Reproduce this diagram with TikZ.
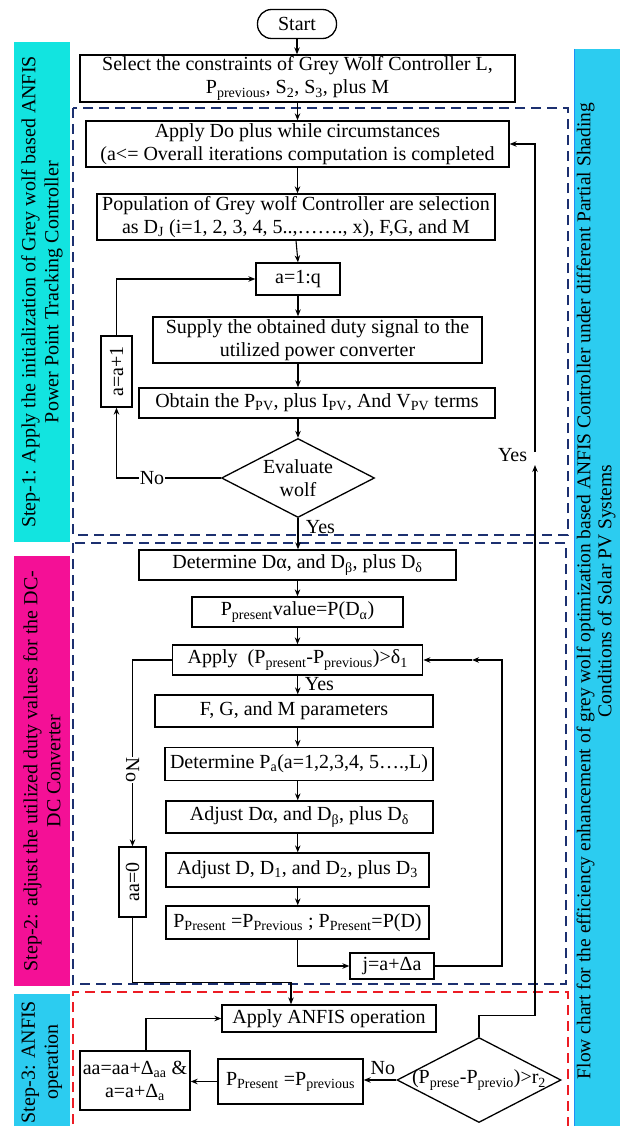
\documentclass[tikz,border=0pt]{standalone}
\usepackage{fontspec}
\setmainfont{Liberation Serif}
\usepackage{xcolor}
\usetikzlibrary{arrows.meta,shapes.geometric}
\definecolor{stepone}{RGB}{18,228,224}
\definecolor{steptwo}{RGB}{244,16,150}
\definecolor{stepthree}{RGB}{44,204,240}
\definecolor{navydash}{RGB}{28,48,112}
\definecolor{reddash}{RGB}{236,28,36}

\begin{document}
\begin{tikzpicture}[x=1pt,y=-1pt,>={Stealth[length=7pt,width=5.5pt]},line width=1.1pt,
  every node/.style={font=\fontsize{20}{23}\selectfont},
  blk/.style={draw,line width=1.3pt,inner sep=0pt,align=center},
  dia/.style={draw,line width=1.3pt,diamond,inner sep=0pt,align=center,shape aspect=2},
  bar/.style={inner sep=0pt,rotate=90,align=center},
  stepframe/.style={dash pattern=on 10pt off 6pt,line width=1.2pt}]
\useasboundingbox (0,0) rectangle (619,1126);
\fill[white] (0,0) rectangle (619,1126);

\node[bar,fill=stepone,minimum width=500,minimum height=56](s1) at (42,292)
  {Step-1: Apply the initialization of Grey wolf based ANFIS\\Power Point Tracking Controller};
\node[bar,fill=steptwo,minimum width=430,minimum height=56](s2) at (42,771)
  {Step-2: adjust the utilized duty values for the DC-\\DC Converter};
\node[bar,fill=stepthree,minimum width=136,minimum height=56](s3) at (42,1062)
  {Step-3: ANFIS\\operation};
\fill[stepthree] (574,49) rectangle (625,1130);
\draw[stepthree!70!blue,line width=0.8pt] (574,49) -- (574,1130);
\node[bar,font=\fontsize{19.5}{21}\selectfont](s0) at (596,591)
  {Flow chart for the efficiency enhancement of grey wolf optimization based ANFIS Controller under different Partial Shading\\Conditions of Solar PV Systems};

\draw[stepframe,navydash] (73,108) rectangle (568,535);
\draw[stepframe,navydash] (73,543) rectangle (566,984);
\draw[stepframe,reddash] (73,1140) -- (73,992) -- (568,992) -- (568,1140);

\node[blk,rounded corners=14pt,minimum width=79,minimum height=29](start) at (297,24) {Start};
\node[blk,minimum width=435,minimum height=47](sel) at (297.5,78.5)
  {Select the constraints of Grey Wolf Controller L,\\P\textsubscript{previous}, S\textsubscript{2}, S\textsubscript{3}, plus M};
\node[blk,minimum width=423,minimum height=46](apply) at (297.5,144)
  {Apply Do plus while circumstances\\(a<= Overall iterations computation is completed};
\node[blk,minimum width=398,minimum height=46](pop) at (296,217)
  {Population of Grey wolf Controller are selection\\as D\textsubscript{J} (i=1, 2, 3, 4, 5..,……., x), F,G, and M};
\node[blk,minimum width=84,minimum height=32](aq) at (298,279) {a=1:q};
\node[blk,minimum width=329,minimum height=46](supply) at (317.5,340)
  {Supply the obtained duty signal to the\\utilized power converter};
\node[blk,minimum width=356,minimum height=30](obtain) at (317,403)
  {Obtain the P\textsubscript{PV}, plus I\textsubscript{PV}, And V\textsubscript{PV} terms};
\node[dia,minimum width=153,minimum height=79](eval) at (298,478) {Evaluate\\wolf};
\node[blk,rotate=90,minimum width=71,minimum height=31](ainc) at (116.5,371.5) {a=a+1};

\node[blk,minimum width=317,minimum height=30](det) at (297.5,565)
  {Determine Dα, and D\textsubscript{β}, plus D\textsubscript{δ}};
\node[blk,minimum width=211,minimum height=30](ppres) at (297.5,612)
  {P\textsubscript{present}value=P(D\textsubscript{α})};
\node[blk,minimum width=250,minimum height=30](appd) at (297.75,660)
  {Apply~~(P\textsubscript{present}-P\textsubscript{previous})>δ\textsubscript{1}};
\node[blk,minimum width=278,minimum height=32](fgm) at (294,711) {F, G, and M parameters};
\node[blk,minimum width=268,minimum height=33](detpa) at (299,764)
  {Determine P\textsubscript{a}(a=1,2,3,4, 5….,L)};
\node[blk,minimum width=267,minimum height=32](adj1) at (299.5,817)
  {Adjust Dα, and D\textsubscript{β}, plus D\textsubscript{δ}};
\node[blk,minimum width=263,minimum height=34](adj2) at (297.5,870)
  {Adjust D, D\textsubscript{1}, and D\textsubscript{2}, plus D\textsubscript{3}};
\node[blk,minimum width=263,minimum height=33](pp) at (297.5,922.5)
  {P\textsubscript{Present} =P\textsubscript{Previous} ; P\textsubscript{Present}=P(D)};
\node[blk,minimum width=84,minimum height=26](jbox) at (392,966) {j=a+Δa};
\node[blk,rotate=90,minimum width=70,minimum height=27](aa0) at (132.5,882) {aa=0};

\node[blk,minimum width=214,minimum height=27](anfis) at (329,1018.5) {Apply ANFIS operation};
\node[blk,minimum width=110,minimum height=59](upd) at (135,1080.5)
  {aa=aa+Δ\textsubscript{aa} \&\\a=a+Δ\textsubscript{a}};
\node[blk,minimum width=145,minimum height=45](pp2) at (290.5,1081.5)
  {P\textsubscript{Present} =P\textsubscript{previous}};
\node[dia,minimum width=164,minimum height=85,
  label={center:(P\textsubscript{prese}-P\textsubscript{previo})>r\textsubscript{2}}](dia2) at (479,1080) {};

\coordinate (gapb) at (535,465);
\coordinate (gapt) at (535,452);
\coordinate (rj) at (502,966);
\coordinate (midtip) at (472,660);

\draw[->](start)--(start|-sel.north);
\draw[->](sel.south)--(sel.south|-apply.north);
\draw[->](apply.south)--(apply.south|-pop.north);
\draw[->](pop.south)--(aq.north);
\draw[->](aq.south)--(aq.south|-supply.north);
\draw[->](aq.south|-supply.south)--(aq.south|-obtain.north);
\draw[->](aq.south|-obtain.south)--(eval.north);
\draw[->](eval.west)--node[fill=white,inner sep=1pt,pos=0.66](no1){No}(ainc.west|-eval.west)--(ainc.west);
\draw[->](ainc.east)|-(aq.west);
\draw[->](eval.south)--(eval.south|-det.north);
\node[anchor=west](yes1) at (302,527) {Yes};

\draw[->](det.south)--(det.south|-ppres.north);
\draw[->](ppres.south)--(ppres.south|-appd.north);
\draw[->](appd.south)--(appd.south|-fgm.north);
\node[anchor=west](yes2) at (301,684) {Yes};
\draw[->](appd.south|-fgm.south)--(appd.south|-detpa.north);
\draw[->](appd.south|-detpa.south)--(appd.south|-adj1.north);
\draw[->](appd.south|-adj1.south)--(appd.south|-adj2.north);
\draw[->](appd.south|-adj2.south)--(appd.south|-pp.north);
\draw[->](pp.south)|-(jbox.west);
\draw[->](jbox.east)--(rj)|-(midtip);
\draw[->](midtip)--(appd.east);
\draw[->](appd.west)--(aa0.east|-appd.west)--node[fill=white,inner sep=1pt,rotate=-90,pos=0.59](no2){No}(aa0.east);
\draw[->](aa0.west)--++(0,65)-|([xshift=-38pt]anfis.north);

\draw[->]([xshift=11pt]upd.north)|-(anfis.west);
\draw[->](dia2.west)--node[above=1pt,pos=0.41](no3){No}(dia2.west-|pp2.east);
\draw[->](pp2.west)--(pp2.west-|upd.east);
\draw[->](dia2.north)--++(0,-21)-|(gapb);
\draw[->](gapt)|-(apply.east);
\node[anchor=east](yes3) at (531,455) {Yes};
\end{tikzpicture}
\end{document}
